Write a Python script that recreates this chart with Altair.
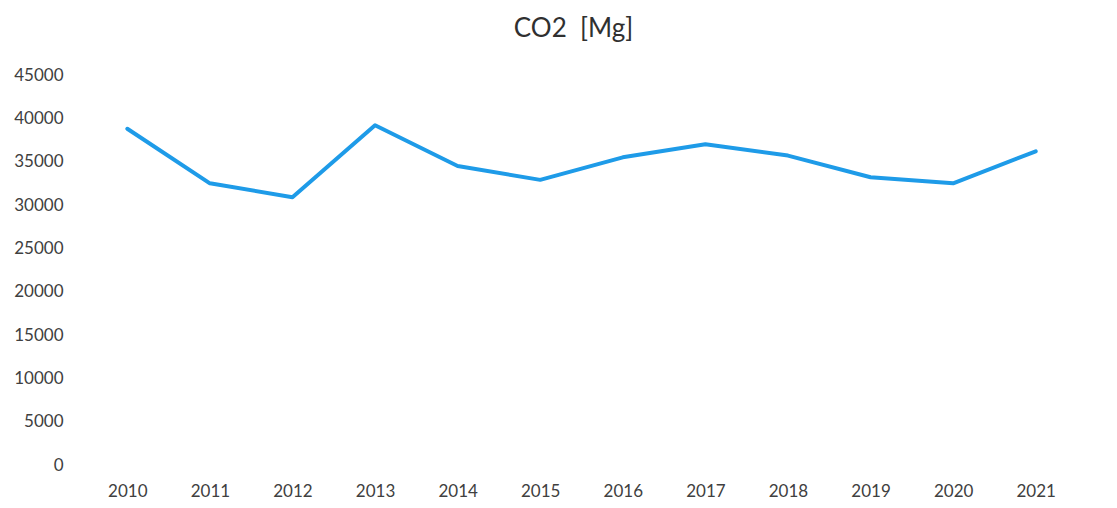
import altair as alt
import pandas as pd

years = ["2010", "2011", "2012", "2013", "2014", "2015", "2016", "2017", "2018", "2019", "2020", "2021"]
co2 = [38800, 32500, 30900, 39200, 34500, 32900, 35500, 37000, 35700, 33200, 32500, 36200]
y_ticks = [0, 5000, 10000, 15000, 20000, 25000, 30000, 35000, 40000, 45000]

df = pd.DataFrame({"year": years, "co2": co2})

FONT = "Lato"
TXT = "#404040"

chart = alt.Chart(df).mark_line(color="#1e9be8", strokeWidth=4, strokeJoin="round", strokeCap="round").encode(
    x=alt.X("year:O", sort=years, scale=alt.Scale(type="point", padding=0.5),
            axis=alt.Axis(title=None, labelAngle=0, ticks=False, domain=False, grid=False,
                          labelPadding=18, labelFontSize=17, labelColor=TXT, labelFont=FONT)),
    y=alt.Y("co2:Q", scale=alt.Scale(domain=[0, 45000], nice=False),
            axis=alt.Axis(title=None, values=y_ticks, format="d", ticks=False, domain=False, grid=False,
                          labelPadding=23, labelFontSize=17, labelColor=TXT, labelFont=FONT)),
).properties(
    width=991,
    height=390,
    title=alt.TitleParams("CO2\u00a0 [Mg]", fontSize=26, font=FONT, fontWeight="normal", color="#303030",
                          anchor="middle", offset=24, dx=-8),
    autosize=alt.AutoSizeParams(type="none"),
    padding={"left": 78, "top": 67, "right": 30, "bottom": 35},
).configure(background="white").configure_view(stroke=None)

chart.save("out.html", embed_options={"renderer": "svg", "actions": False})
